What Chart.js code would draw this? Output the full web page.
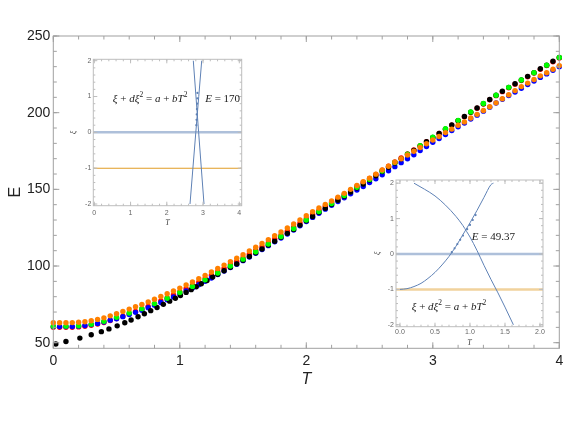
<!DOCTYPE html>
<html><head><meta charset="utf-8">
<script src="https://cdn.jsdelivr.net/npm/chart.js@4"></script>
<style>
html,body{margin:0;padding:0;background:#fff;}
#wrap{position:relative;width:581px;height:436px;overflow:hidden;}
canvas{position:absolute;}
</style></head><body>
<div id="wrap">
<canvas id="main" width="581" height="436" style="left:0;top:0;width:581px;height:436px"></canvas>
<canvas id="in1" width="192" height="190" style="left:58px;top:40px;width:192px;height:190px"></canvas>
<canvas id="in2" width="190" height="190" style="left:365px;top:165px;width:190px;height:190px"></canvas>
</div>
<script>
// ---------------- main chart data ----------------
const T05 = [0,0.05,0.1,0.15,0.2,0.25,0.3,0.35,0.4,0.45,0.5,0.55,0.6,0.65,0.7,0.75,0.8,0.85,0.9,0.95,1,1.05,1.1,1.15,1.2,1.25,1.3,1.35,1.4,1.45,1.5,1.55,1.6,1.65,1.7,1.75,1.8,1.85,1.9,1.95,2,2.05,2.1,2.15,2.2,2.25,2.3,2.35,2.4,2.45,2.5,2.55,2.6,2.65,2.7,2.75,2.8,2.85,2.9,2.95,3,3.05,3.1,3.15,3.2,3.25,3.3,3.35,3.4,3.45,3.5,3.55,3.6,3.65,3.7,3.75,3.8,3.85,3.9,3.95,4];
const T10 = [0,0.1,0.2,0.3,0.4,0.5,0.6,0.7,0.8,0.9,1,1.1,1.2,1.3,1.4,1.5,1.6,1.7,1.8,1.9,2,2.1,2.2,2.3,2.4,2.5,2.6,2.7,2.8,2.9,3,3.1,3.2,3.3,3.4,3.5,3.6,3.7,3.8,3.9,4];
const greenE = [60.8,60.8,61.1,62.1,64.0,66.6,69.4,72.2,75.5,79.0,82.7,86.7,91.0,95.5,100.0,104.5,109.3,114.3,119.3,124.5,130.0,135.5,140.8,146.0,151.3,156.5,162.0,167.5,173.0,178.5,184.0,189.5,195.0,200.5,206.0,211.4,216.5,221.3,226.1,231.0,236.0];
const redE = [60.0,60.0,60.0,60.1,60.3,60.7,61.3,62.2,63.2,64.5,65.8,67.3,68.8,70.4,72.0,73.7,75.5,77.3,79.2,81.1,83.1,85.2,87.3,89.5,91.8,94.0,96.3,98.5,100.8,103.0,105.3,107.7,110.1,112.6,115.1,117.6,120.1,122.7,125.3,128.0,130.8,133.6,136.3,139.0,141.6,144.2,146.8,149.5,152.0,154.6,157.1,159.7,162.5,165.1,167.8,170.4,173.1,175.7,178.4,181.0,183.7,186.4,189.2,191.9,194.7,197.4,200.2,202.9,205.7,208.4,211.1,213.7,216.2,218.6,221.0,223.4,225.8,228.3,230.7,233.2,235.7];
const blueE = [60.5,60.5,60.5,60.6,60.8,61.2,61.8,62.6,63.5,64.7,65.6,67.0,68.4,69.8,71.2,72.8,74.5,76.2,78.0,79.8,81.7,83.7,85.7,87.8,90.0,92.2,94.5,96.7,99.0,101.2,103.5,105.9,108.3,110.8,113.3,115.8,118.3,120.9,123.5,126.2,129.0,131.7,134.4,137.1,139.6,142.1,144.5,147.1,149.5,151.9,154.4,156.9,159.5,162.1,164.8,167.4,170.0,172.6,175.3,177.9,180.7,183.2,185.8,188.3,190.8,193.3,195.9,198.4,201.0,203.6,206.3,208.8,211.2,213.5,215.9,218.3,220.6,223.0,225.3,227.6,230.0];
const orangeE = [63.0,63.0,63.0,63.1,63.3,63.7,64.3,65.2,66.2,67.5,68.9,70.4,71.9,73.4,74.9,76.6,78.4,80.1,81.9,83.7,85.6,87.6,89.6,91.7,93.9,96.1,98.4,100.6,102.9,105.1,107.4,109.8,112.2,114.7,117.2,119.7,122.2,124.8,127.4,130.0,132.8,135.4,137.8,140.2,142.4,144.9,147.4,150.0,152.5,155.0,157.3,159.9,162.6,165.1,167.7,170.0,172.4,174.8,177.3,179.7,182.2,184.5,187.0,189.3,191.8,194.0,196.5,198.9,201.4,203.9,206.4,209.1,211.7,214.4,217.0,219.3,221.6,224.0,226.0,228.3,230.7];
const blackT = [0.02,0.10,0.21,0.30,0.38,0.44,0.505,0.565,0.615,0.67,0.72,0.77,0.82,0.87,0.92,0.965,1.005,1.05,1.09,1.13,1.17,1.215,1.26,1.3,1.35,1.4,1.45,1.5,1.55,1.6,1.65,1.7,1.75,1.8,1.85,1.9,1.95,2,2.05,2.1,2.15,2.2,2.25,2.3,2.35,2.4,2.45,2.5,2.55,2.6,2.65,2.7,2.75,2.8,2.85,2.9,2.95,3,3.05,3.1,3.15,3.2,3.25,3.3,3.35,3.4,3.45,3.5,3.55,3.6,3.65,3.7,3.75,3.8,3.85,3.9,3.95,4];
const blackE = [49.2,50.8,53.0,55.2,57.2,59.0,61.0,63.0,64.8,66.9,68.9,70.9,73.0,75.0,77.1,79.0,80.8,82.8,84.6,86.5,88.4,90.6,92.8,94.6,96.9,99.2,101.4,103.8,106.2,108.6,111.1,113.7,116.2,118.7,121.3,123.9,126.7,129.5,132.3,135.0,137.7,140.3,142.9,145.5,148.3,150.9,153.5,156.1,158.8,161.6,164.4,167.2,169.9,172.7,175.4,178.2,181.0,183.8,186.5,189.3,192.0,194.8,197.5,200.3,203.1,205.9,208.6,211.4,214.0,216.5,218.9,221.3,223.7,226.1,228.6,231.0,233.5,236.0];
const mainXTicks = [0,1,2,3,4];
const mainXLabels = ['0','1','2','3','4'];
const mainYTicks = [50,100,150,200,250];
const mainYLabels = ['50','100','150','200','250'];

// ---------------- inset 1 data (E = 170) ----------------
const in1LineAT = [2.64,2.80,2.963];
const in1LineAXi = [-2,0,2];
const in1LineBT = [3.026,2.878,2.731];
const in1LineBXi = [-2,0,2];
const in1DotsT = [2.815,2.82,2.825,2.83,2.835,2.84,2.845];
const in1DotsXi = [0.2,0.35,0.5,0.65,0.8,0.95,1.1];
const in1XTicks = [0,1,2,3,4];
const in1XLabels = ['0','1','2','3','4'];
const in1YTicks = [-2,-1,0,1,2];
const in1YLabels = ['-2','-1','0','1','2'];
const in1Energy = 'E = 170';

// ---------------- inset 2 data (E = 49.37) ----------------
const in2RiseT = [0,0.1,0.2,0.3,0.4,0.5,0.6,0.7,0.8,0.9,1.0,1.1,1.2,1.3,1.335];
const in2RiseXi = [-1.0,-0.98,-0.92,-0.83,-0.69,-0.52,-0.31,-0.07,0.22,0.55,0.88,1.23,1.6,1.96,2.0];
const in2FallT = [0.2,0.35,0.5,0.65,0.8,0.9,0.95,1.0,1.1,1.2,1.3,1.4,1.5,1.62];
const in2FallXi = [2.0,1.83,1.64,1.38,1.06,0.8,0.64,0.48,0.1,-0.32,-0.72,-1.1,-1.5,-2.0];
const in2DotsT = [0.74,0.78,0.82,0.86,0.9,0.96,1.0,1.04,1.08];
const in2DotsXi = [0.05,0.16,0.28,0.4,0.52,0.7,0.82,0.96,1.1];
const in2XTicks = [0,0.5,1,1.5,2];
const in2XLabels = ['0.0','0.5','1.0','1.5','2.0'];
const in2YTicks = [-2,-1,0,1,2];
const in2YLabels = ['-2','-1','0','1','2'];
const in2Energy = 'E = 49.37';

// ---------------- helpers ----------------
const pts = (xs, ys) => xs.map((x, i) => ({x, y: ys[i]}));
const range = (a, b, s) => { const r = []; for (let v = a; v <= b + 1e-9; v += s) r.push(+v.toFixed(4)); return r; };
const SANS = '"Liberation Sans", Arial, sans-serif';
const SERIF = '"Liberation Serif", "DejaVu Serif", serif';
const BLUE = '#5E81B5', ORANGE = '#E19C24';

const frameTicks = {
  id: 'frameTicks',
  afterDatasetsDraw(chart, args, o) {
    const {ctx, chartArea: a, scales: {x, y}} = chart;
    ctx.save();
    ctx.strokeStyle = o.color; ctx.lineWidth = 1;
    ctx.strokeRect(a.left, a.top, a.right - a.left, a.bottom - a.top);
    const tick = (list, len, horiz) => {
      for (const v of list) {
        ctx.beginPath();
        if (horiz) {
          const p = x.getPixelForValue(v);
          if (p < a.left - 0.5 || p > a.right + 0.5) continue;
          ctx.moveTo(p, a.bottom); ctx.lineTo(p, a.bottom - len);
          ctx.moveTo(p, a.top); ctx.lineTo(p, a.top + len);
        } else {
          const p = y.getPixelForValue(v);
          if (p < a.top - 0.5 || p > a.bottom + 0.5) continue;
          ctx.moveTo(a.left, p); ctx.lineTo(a.left + len, p);
          ctx.moveTo(a.right, p); ctx.lineTo(a.right - len, p);
        }
        ctx.stroke();
      }
    };
    tick(o.xMajor, o.major, true); tick(o.xMinor, o.minor, true);
    tick(o.yMajor, o.major, false); tick(o.yMinor, o.minor, false);
    ctx.restore();
  }
};

function drawRuns(ctx, runs, cx, cy, size) {
  let w = 0;
  const items = runs.map(r => {
    const s = r.sup ? size * 0.68 : size;
    const f = (r.it ? 'italic ' : '') + s + 'px ' + SERIF;
    ctx.font = f;
    const mw = ctx.measureText(r.t).width;
    w += mw;
    return {r, f, mw};
  });
  let xx = cx - w / 2;
  ctx.textBaseline = 'middle'; ctx.textAlign = 'left';
  for (const it of items) {
    ctx.font = it.f;
    ctx.fillText(it.r.t, xx, cy - (it.r.sup ? size * 0.38 : 0));
    xx += it.mw;
  }
}
const formulaRuns = [{t:'ξ',it:1},{t:' + '},{t:'d',it:1},{t:'ξ',it:1},{t:'2',sup:1},{t:' = '},{t:'a',it:1},{t:' + '},{t:'b',it:1},{t:'T',it:1},{t:'2',sup:1}];
const energyRuns = s => [{t:'E',it:1},{t:s.slice(1)}];

const notes = {
  id: 'notes',
  afterDatasetsDraw(chart, args, o) {
    const {ctx, scales: {x, y}} = chart;
    ctx.save(); ctx.fillStyle = '#1a1a1a';
    for (const n of o.items) drawRuns(ctx, n.runs, x.getPixelForValue(n.x), y.getPixelForValue(n.y), n.size);
    ctx.restore();
  }
};

const setTicks = (vals) => s => { s.ticks = vals.map(v => ({value: v})); };

// ---------------- main chart ----------------
const dot = (label, data, color, order) => ({label, data, backgroundColor: color, borderWidth: 0, pointRadius: 2.7, pointHoverRadius: 2.7, order, clip: false});
new Chart(document.getElementById('main'), {
  type: 'scatter',
  data: {datasets: [
    dot('red', pts(T05, redE), '#ff0000', 4),
    dot('blue', pts(T05, blueE), '#0000ff', 3),
    dot('black', pts(blackT, blackE), '#000000', 2),
    dot('green', pts(T10, greenE), '#00ff00', 1),
    dot('orange', pts(T05, orangeE), '#ff8000', 0)
  ]},
  options: {
    responsive: false, animation: false, devicePixelRatio: 1, events: [],
    layout: {padding: {left: 0, top: 36, right: 21.7, bottom: 0}},
    plugins: {legend: {display: false}, tooltip: {enabled: false},
      frameTicks: {color: '#a0a0a0', major: 6, minor: 3.5, xMajor: mainXTicks, xMinor: range(0, 4, 0.2), yMajor: mainYTicks, yMinor: range(50, 250, 10)}},
    scales: {
      x: {type: 'linear', min: 0, max: 4, afterBuildTicks: setTicks(mainXTicks),
        afterFit: s => { s.height = 87.7; },
        grid: {display: false, drawTicks: false}, border: {display: false},
        ticks: {autoSkip: false, maxRotation: 0, padding: 4, color: '#222', font: {family: SANS, size: 14}, callback: (v, i) => mainXLabels[i]},
        title: {display: true, text: 'T', color: '#222', font: {family: SANS, size: 16, style: 'italic'}, padding: {top: 0, bottom: 46.4}}},
      y: {type: 'linear', min: 46.35, max: 250, afterBuildTicks: setTicks(mainYTicks),
        afterFit: s => { s.width = 53.3; },
        grid: {display: false, drawTicks: false}, border: {display: false},
        ticks: {autoSkip: false, padding: 3, color: '#222', font: {family: SANS, size: 14}, callback: (v, i) => mainYLabels[i]},
        title: {display: true, text: 'E', color: '#222', font: {family: SANS, size: 16}, padding: {top: 6.4, bottom: 0}}}
    }
  },
  plugins: [frameTicks]
});

// ---------------- inset charts ----------------
const line = (data, color, width, order) => ({data, showLine: true, borderColor: color, borderWidth: width, pointRadius: 0, pointHoverRadius: 0, cubicInterpolationMode: 'monotone', order, clip: false});
const tinyDots = (data) => ({data, showLine: false, backgroundColor: BLUE, borderWidth: 0, pointRadius: 1.1, pointHoverRadius: 1.1, order: 0});

function insetOptions(cfg) {
  return {
    responsive: false, animation: false, devicePixelRatio: 1, events: [],
    layout: {padding: {left: 0, top: cfg.padTop, right: cfg.padRight, bottom: 0}},
    plugins: {legend: {display: false}, tooltip: {enabled: false},
      frameTicks: {color: '#bdbdbd', major: 4, minor: 2, xMajor: cfg.xTicks, xMinor: cfg.xMinor, yMajor: cfg.yTicks, yMinor: range(-2, 2, 0.2)},
      notes: {items: cfg.notes}},
    scales: {
      x: {type: 'linear', min: cfg.xMin, max: cfg.xMax, afterBuildTicks: setTicks(cfg.xTicks),
        afterFit: s => { s.height = cfg.xH; },
        grid: {display: false, drawTicks: false}, border: {display: false},
        ticks: {autoSkip: false, maxRotation: 0, padding: cfg.xPad, color: '#666', font: {family: SANS, size: 7}, callback: (v, i) => cfg.xLabels[i]},
        title: {display: true, text: 'T', color: '#444', font: {family: SERIF, size: 8, style: 'italic'}, padding: {top: 0, bottom: cfg.tPad}}},
      y: {type: 'linear', min: cfg.yMin, max: cfg.yMax, afterBuildTicks: setTicks(cfg.yTicks),
        afterFit: s => { s.width = cfg.yW; },
        grid: {display: false, drawTicks: false}, border: {display: false},
        ticks: {autoSkip: false, padding: 2, color: '#666', font: {family: SANS, size: 7}, callback: (v, i) => cfg.yLabels[i]},
        title: {display: true, text: 'ξ', color: '#444', font: {family: SERIF, size: 8, style: 'italic'}, padding: {top: cfg.xiPad, bottom: 0}}}
    }
  };
}

new Chart(document.getElementById('in1'), {
  type: 'scatter',
  data: {datasets: [
    line(pts([-0.028, 4.066], [0, 0]), 'rgba(94,129,181,0.5)', 2.5, 5),
    line(pts([-0.028, 4.066], [-1, -1]), ORANGE, 1.1, 4),
    line(pts(in1LineAT, in1LineAXi), BLUE, 1, 3),
    line(pts(in1LineBT, in1LineBXi), BLUE, 1, 2),
    tinyDots(pts(in1DotsT, in1DotsXi))
  ]},
  options: insetOptions({padTop: 19.3, padRight: 8.3, xMin: -0.028, xMax: 4.066, yMin: -2.047, yMax: 2.039,
    xTicks: in1XTicks, xLabels: in1XLabels, xMinor: range(0, 4, 0.2), yTicks: in1YTicks, yLabels: in1YLabels,
    xH: 24.3, yW: 35.3, xPad: 3, tPad: 2.5, xiPad: 11,
    notes: [{x: 1.54, y: 0.93, size: 11, runs: formulaRuns}, {x: 3.54, y: 0.93, size: 11, runs: energyRuns(in1Energy)}]}),
  plugins: [frameTicks, notes]
});

new Chart(document.getElementById('in2'), {
  type: 'scatter',
  data: {datasets: [
    line(pts([-0.057, 2.043], [0, 0]), 'rgba(94,129,181,0.5)', 2.5, 5),
    line(pts([-0.057, 2.043], [-1, -1]), 'rgba(225,156,36,0.45)', 2.5, 4),
    line(pts(in2RiseT, in2RiseXi), BLUE, 1, 3),
    line(pts(in2FallT, in2FallXi), BLUE, 1, 2),
    tinyDots(pts(in2DotsT, in2DotsXi))
  ]},
  options: insetOptions({padTop: 15, padRight: 12, xMin: -0.057, xMax: 2.043, yMin: -2.054, yMax: 2.09,
    xTicks: in2XTicks, xLabels: in2XLabels, xMinor: range(0, 2, 0.1), yTicks: in2YTicks, yLabels: in2YLabels,
    xH: 28.3, yW: 31, xPad: 1.5, tPad: 7.5, xiPad: 7.6,
    notes: [{x: 1.333, y: 0.49, size: 11, runs: energyRuns(in2Energy)}, {x: 0.7, y: -1.51, size: 11, runs: formulaRuns}]}),
  plugins: [frameTicks, notes]
});
</script>
</body></html>
